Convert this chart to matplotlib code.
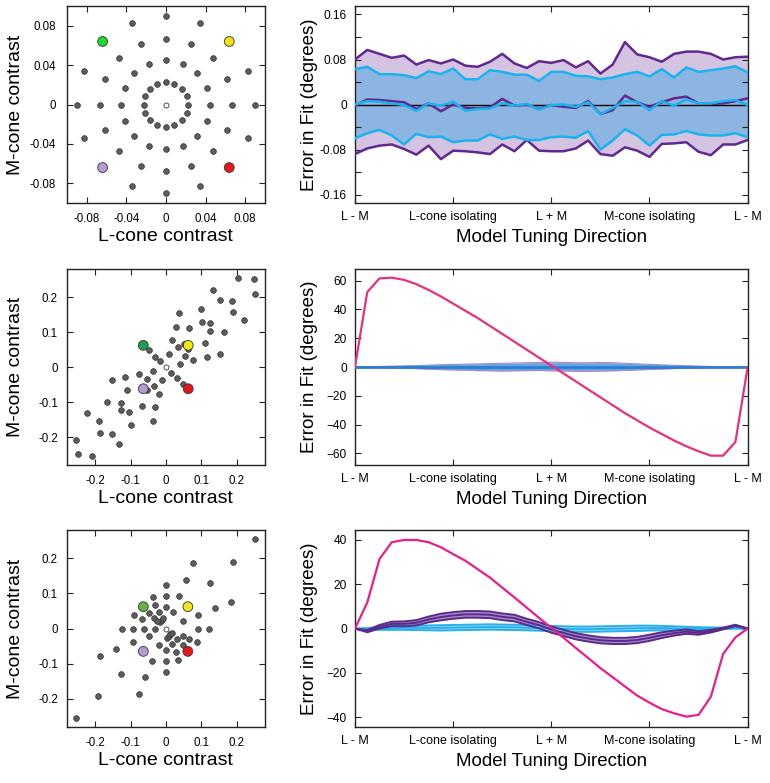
import numpy as np
import matplotlib
matplotlib.use('Agg')
import matplotlib.pyplot as plt

plt.rcParams['font.family'] = ['Liberation Sans', 'DejaVu Sans']

# =========================
# STIMULUS DATA (L, M cone contrast)
# =========================
# panel 1: polar grid, four rings of 16 directions
ring_x = [0.0225, 0.0208, 0.0159, 0.0086, 0.0, -0.0086, -0.0159, -0.0208,
          -0.0225, -0.0208, -0.0159, -0.0086, 0.0, 0.0086, 0.0159, 0.0208,
          0.045, 0.0416, 0.0318, 0.0172, 0.0, -0.0172, -0.0318, -0.0416,
          -0.045, -0.0416, -0.0318, -0.0172, 0.0, 0.0172, 0.0318, 0.0416,
          0.067, 0.0619, 0.0474, 0.0256, 0.0, -0.0256, -0.0474, -0.0619,
          -0.067, -0.0619, -0.0474, -0.0256, 0.0, 0.0256, 0.0474, 0.0619,
          0.09, 0.0831, 0.0344, 0.0, -0.0344, -0.0831,
          -0.09, -0.0831, -0.0344, 0.0, 0.0344, 0.0831]
ring_y = [0.0, 0.0086, 0.0159, 0.0208, 0.0225, 0.0208, 0.0159, 0.0086,
          0.0, -0.0086, -0.0159, -0.0208, -0.0225, -0.0208, -0.0159, -0.0086,
          0.0, 0.0172, 0.0318, 0.0416, 0.045, 0.0416, 0.0318, 0.0172,
          0.0, -0.0172, -0.0318, -0.0416, -0.045, -0.0416, -0.0318, -0.0172,
          0.0, 0.0256, 0.0474, 0.0619, 0.067, 0.0619, 0.0474, 0.0256,
          0.0, -0.0256, -0.0474, -0.0619, -0.067, -0.0619, -0.0474, -0.0256,
          0.0, 0.0344, 0.0831, 0.09, 0.0831, 0.0344,
          0.0, -0.0344, -0.0831, -0.09, -0.0831, -0.0344]

# panel 2: correlated stimuli
corr_x = [0.205, 0.248, 0.253, 0.132, 0.153, 0.186, 0.189, 0.220, 0.098, 0.102,
          0.125, 0.125, 0.165, 0.153, 0.115, 0.110, 0.077, 0.066, 0.038, 0.029,
          0.018, 0.009, 0.034, 0.052, 0.062, 0.055, 0.039,
          -0.048, -0.032, -0.016, 0.015, 0.031, 0.047,
          -0.038, -0.010, -0.033, -0.019, -0.054, -0.076, -0.115, -0.111, -0.152,
          -0.167, -0.128, -0.126, -0.104, -0.100, -0.067, -0.030, -0.038, -0.223,
          -0.190, -0.188, -0.154, -0.134, -0.254, -0.250, -0.208, -0.054]
corr_y = [0.255, 0.251, 0.209, 0.221, 0.191, 0.188, 0.156, 0.133, 0.166, 0.129,
          0.126, 0.104, 0.101, 0.038, 0.029, 0.068, 0.021, 0.111, 0.154, 0.114,
          0.077, 0.038, 0.056, 0.065, 0.051, 0.032, 0.010,
          0.048, 0.030, 0.016, -0.017, -0.031, -0.048,
          -0.010, -0.037, -0.055, -0.077, -0.033, -0.020, -0.029, -0.067, -0.038,
          -0.099, -0.104, -0.124, -0.128, -0.165, -0.110, -0.114, -0.153, -0.132,
          -0.155, -0.189, -0.191, -0.220, -0.208, -0.249, -0.255, -0.065]

# panel 3: mixed stimuli
mix_x = [0.253, 0.190, 0.076, 0.125, 0.057, 0.184, 0.138, 0.122, 0.090, 0.090,
         0.089, 0.066, 0.049, 0.048, 0.032, 0.018, 0.029, 0.035, 0.0, 0.0,
         0.0, -0.020, -0.039, -0.059, -0.077, -0.127, -0.141, -0.186, -0.191,
         -0.254, -0.124, -0.092, -0.062, -0.030, -0.092, -0.090, -0.069, -0.048,
         -0.048, -0.033, -0.030, -0.037, -0.019, -0.018, -0.011, -0.007, 0.0,
         0.0, 0.0, 0.019, 0.038, 0.047, 0.003, 0.008, 0.012, 0.018, -0.025]
mix_y = [0.254, 0.190, 0.186, 0.128, 0.138, 0.076, 0.057, 0.0, 0.038, 0.0,
         -0.038, -0.029, -0.020, -0.048, -0.031, -0.045, -0.068, -0.090, -0.062,
         -0.093, -0.124, -0.046, -0.093, -0.138, -0.186, -0.129, -0.057, -0.077,
         -0.191, -0.255, 0.0, 0.0, 0.0, 0.0, -0.039, 0.037, 0.028, 0.045,
         -0.020, 0.030, 0.066, 0.090, 0.047, 0.018, 0.024, 0.029, 0.062,
         0.092, 0.124, 0.048, 0.093, 0.020, -0.027, -0.022, -0.017, -0.012, 0.021]

# highlighted stimuli: L+M, L-M, -(L+M), M-L  (per panel)
hl_colors = [['#f3e214', '#1fdc2a', '#b89ad2', '#e8141c'],
             ['#f5e810', '#1f9d4f', '#b39bd0', '#e8141c'],
             ['#f1e41a', '#62b445', '#b89ad2', '#e8141c']]
hl_x = [[0.064, -0.064, -0.064, 0.064],
        [0.063, -0.064, -0.064, 0.063],
        [0.062, -0.064, -0.064, 0.062]]
hl_y = [[0.064, 0.064, -0.064, -0.064],
        [0.062, 0.062, -0.062, -0.062],
        [0.062, 0.062, -0.065, -0.065]]

# =========================
# MODEL ERROR DATA (33 tuning directions, 0-180 deg)
# =========================
tuning_dir = np.linspace(0, 180, 33)
dir_ticks = [0, 45, 90, 135, 180]
dir_labels = ['L - M', 'L-cone isolating', 'L + M', 'M-cone isolating', 'L - M']

# panel 1 (degrees)
p1_hi_purple = [0.080, 0.097, 0.090, 0.083, 0.087, 0.071, 0.079, 0.073, 0.080, 0.069, 0.067,
                0.076, 0.090, 0.073, 0.065, 0.077, 0.074, 0.079, 0.066, 0.077, 0.055, 0.071,
                0.111, 0.089, 0.084, 0.076, 0.090, 0.094, 0.094, 0.090, 0.080, 0.084, 0.085]
p1_hi_cyan = [0.063, 0.067, 0.054, 0.054, 0.052, 0.047, 0.059, 0.054, 0.064, 0.045, 0.045,
              0.061, 0.058, 0.053, 0.053, 0.042, 0.058, 0.058, 0.051, 0.050, 0.045, 0.048,
              0.054, 0.058, 0.050, 0.063, 0.048, 0.066, 0.058, 0.061, 0.064, 0.068, 0.057]
p1_mid_purple = [-0.002, 0.009, 0.008, 0.006, 0.004, -0.008, 0.002, -0.012, 0.0, -0.006, -0.007,
                 -0.005, 0.010, -0.002, 0.0, -0.008, -0.001, -0.004, -0.006, 0.006, -0.017, -0.010,
                 0.016, 0.004, -0.004, 0.004, 0.011, 0.014, 0.002, 0.001, 0.002, 0.006, 0.011]
p1_mid_cyan = [0.0, 0.006, 0.005, 0.002, -0.001, -0.011, 0.002, -0.002, 0.005, -0.011, -0.008,
               -0.007, 0.002, -0.002, 0.001, -0.009, -0.001, 0.0, -0.004, 0.004, -0.017, -0.006,
               0.006, 0.005, -0.010, 0.006, -0.002, 0.009, 0.002, 0.002, 0.006, 0.008, -0.001]
p1_lo_cyan = [-0.060, -0.051, -0.045, -0.055, -0.071, -0.052, -0.058, -0.057, -0.067, -0.064, -0.064,
              -0.053, -0.061, -0.057, -0.063, -0.063, -0.058, -0.057, -0.059, -0.047, -0.080, -0.064,
              -0.044, -0.055, -0.073, -0.054, -0.053, -0.047, -0.053, -0.055, -0.055, -0.051, -0.058]
p1_lo_purple = [-0.088, -0.078, -0.073, -0.071, -0.079, -0.089, -0.073, -0.097, -0.082, -0.083, -0.085,
                -0.088, -0.071, -0.083, -0.063, -0.082, -0.083, -0.083, -0.078, -0.064, -0.088, -0.091,
                -0.076, -0.082, -0.093, -0.070, -0.069, -0.067, -0.084, -0.090, -0.071, -0.071, -0.063]

# panel 2
p2_pink = [0, 52, 61.5, 62, 60.5, 57.5, 53.5, 49, 44, 39, 34, 28.5, 23, 17.5, 12, 6.5, 1,
           -4.5, -10, -15.5, -21, -26.5, -32, -37, -42, -46.5, -51, -55, -58.5, -61.5, -61.5, -52, 0]
p2_hi_purple = [0, 0.2, 0.4, 0.6, 0.8, 1.0, 1.3, 1.6, 1.8, 2.0, 2.2, 2.4, 2.6, 2.8, 3.0, 3.2, 3.4,
                3.2, 3.0, 3.0, 3.2, 3.0, 2.6, 2.2, 1.8, 1.5, 1.2, 0.9, 0.6, 0.4, 0.2, 0.1, 0]
p2_lo_purple = [0, -0.2, -0.3, -0.5, -0.8, -1.1, -1.5, -1.8, -2.0, -2.2, -2.5, -2.6, -2.8, -2.6, -2.5,
                -2.4, -2.6, -2.8, -3.0, -3.0, -2.8, -2.6, -2.4, -2.0, -1.7, -1.4, -1.1, -0.8, -0.5,
                -0.3, -0.2, -0.1, 0]
p2_hi_cyan = [0, 0.1, 0.2, 0.3, 0.5, 0.6, 0.8, 1.0, 1.1, 1.2, 1.3, 1.5, 1.6, 1.7, 1.8, 1.9, 2.0,
              1.9, 1.8, 1.8, 1.9, 1.8, 1.6, 1.3, 1.1, 0.9, 0.7, 0.5, 0.4, 0.2, 0.1, 0.0, 0]
p2_lo_cyan = [0, -0.1, -0.2, -0.3, -0.5, -0.7, -0.9, -1.1, -1.2, -1.3, -1.5, -1.6, -1.7, -1.6, -1.5,
              -1.4, -1.6, -1.7, -1.8, -1.8, -1.7, -1.6, -1.4, -1.2, -1.0, -0.8, -0.6, -0.5, -0.3,
              -0.2, -0.1, 0.0, 0]
p2_mid = [0] * 33

# panel 3
p3_pink = [0, 11.7, 31.4, 39, 40, 40, 39, 36.7, 33.6, 30.6, 26.8, 23, 18.5, 14, 9.4, 4.8, 0.3,
           -4.2, -8.8, -13.3, -17.9, -22, -26.2, -30.3, -33.5, -36.4, -38.3, -39.8, -39, -30.8,
           -11.5, -4, 0]
p3_hi_purple = [0, -0.7, 1.6, 3.1, 3.2, 3.8, 5.4, 6.7, 7.4, 7.9, 7.9, 7.7, 6.8, 6.2, 4.4, 2.9, 0.9,
                -0.6, -2.1, -3.1, -3.9, -4.2, -4.2, -3.8, -2.8, -1.7, -1.0, -0.4, -1.2, -0.6, 0.4, 1.7, 0]
p3_mid_purple = [0, -1.2, 0.8, 2.1, 2.1, 2.6, 4.1, 5.2, 5.9, 6.4, 6.4, 6.2, 5.3, 4.7, 3.0, 1.5, -0.5,
                 -2.0, -3.5, -4.5, -5.3, -5.6, -5.6, -5.2, -4.2, -3.0, -2.1, -1.4, -2.0, -1.2, 0, 1.4, 0]
p3_lo_purple = [0, -1.7, 0.0, 1.1, 1.0, 1.4, 2.8, 3.7, 4.4, 4.9, 4.9, 4.7, 3.8, 3.2, 1.6, 0.1, -1.9,
                -3.4, -4.9, -5.9, -6.7, -7.0, -7.0, -6.6, -5.6, -4.3, -3.2, -2.4, -2.8, -1.8, -0.4, 1.1, 0]
p3_hi_cyan = [0, 0.2, 0.6, 1.0, 1.2, 1.3, 1.4, 1.5, 1.6, 1.7, 1.8, 1.9, 1.8, 1.7, 1.6, 1.4, 1.2,
              1.0, 0.9, 0.9, 1.0, 1.1, 1.2, 1.3, 1.3, 1.2, 1.0, 0.8, 0.6, 0.5, 0.4, 0.2, 0]
p3_mid_cyan = [0, -0.3, 0, 0.2, 0.3, 0.3, 0.3, 0.3, 0.4, 0.5, 0.6, 0.7, 0.6, 0.5, 0.4, 0.2, 0,
               -0.2, -0.3, -0.3, -0.2, -0.1, 0, 0.1, 0.2, 0.2, 0.1, 0, -0.1, 0, 0.1, 0.1, 0]
p3_lo_cyan = [0, -0.8, -0.6, -0.6, -0.6, -0.7, -0.8, -0.9, -0.8, -0.7, -0.6, -0.5, -0.6, -0.7, -0.8,
              -1.0, -1.2, -1.4, -1.5, -1.5, -1.4, -1.3, -1.2, -1.1, -0.9, -0.8, -0.8, -0.8, -0.8,
              -0.5, -0.2, 0, 0]

# =========================
# STYLE
# =========================
PURPLE = '#62288f'
PURPLE_FILL = '#d5c4e1'
CYAN = '#1ab3ee'
BLUE_FILL = '#8cb5e2'
GRAY = '#5c5c5c'

fig = plt.figure(figsize=(7.70, 7.83), dpi=100)

left_boxes = [[0.087, 0.7407, 0.257, 0.2516],
              [0.087, 0.4061, 0.257, 0.2503],
              [0.087, 0.0715, 0.257, 0.2516]]
right_boxes = [[0.461, 0.7407, 0.510, 0.2516],
               [0.461, 0.4061, 0.510, 0.2503],
               [0.461, 0.0715, 0.510, 0.2516]]


def style_axes(ax):
    ax.tick_params(direction='in', top=True, right=True, length=4, width=0.8,
                   colors='#222222', labelcolor='black')
    for sp in ax.spines.values():
        sp.set_linewidth(1.0)
        sp.set_color('#222222')


# =========================
# SCATTER PANELS
# =========================
scatter_sets = [(ring_x, ring_y), (corr_x, corr_y), (mix_x, mix_y)]
for k, (sx, sy) in enumerate(scatter_sets):
    ax = fig.add_axes(left_boxes[k])
    ax.scatter(sx, sy, s=17, c=GRAY, edgecolors='#333333', linewidths=0.5, zorder=2)
    ax.scatter(hl_x[k], hl_y[k], s=50, c=hl_colors[k], edgecolors='#333333',
               linewidths=0.6, zorder=3)
    ax.scatter([0], [0], s=13, c='white', edgecolors='#333333', linewidths=0.6, zorder=3)
    if k == 0:
        ax.set_xlim(-0.1, 0.1)
        ax.set_ylim(-0.1, 0.1)
        ticks = [-0.08, -0.04, 0, 0.04, 0.08]
        labels = ['-0.08', '-0.04', '0', '0.04', '0.08']
        ypad = 8
    else:
        ax.set_xlim(-0.28, 0.28)
        ax.set_ylim(-0.28, 0.28)
        ticks = [-0.2, -0.1, 0, 0.1, 0.2]
        labels = ['-0.2', '-0.1', '0', '0.1', '0.2']
        ypad = 6.5
    ax.set_xticks(ticks)
    ax.set_xticklabels(labels)
    ax.set_yticks(ticks)
    ax.set_yticklabels(labels)
    style_axes(ax)
    ax.tick_params(axis='x', labelsize=8.3, pad=7)
    ax.tick_params(axis='y', labelsize=8.3, pad=ypad)
    ax.set_xlabel('L-cone contrast', fontsize=14)
    ax.set_ylabel('M-cone contrast', fontsize=14)
    ax.xaxis.set_label_coords(0.5, -0.125)
    ax.yaxis.set_label_coords(-0.215, 0.5)

# =========================
# ERROR PANELS
# =========================
# panel 1
ax = fig.add_axes(right_boxes[0])
ax.fill_between(tuning_dir, p1_lo_purple, p1_hi_purple, color=PURPLE_FILL, lw=0)
ax.fill_between(tuning_dir, p1_lo_cyan, p1_hi_cyan, color=BLUE_FILL, lw=0)
ax.axhline(0, color='black', lw=1.0, zorder=2)
for vals in [p1_hi_purple, p1_mid_purple, p1_lo_purple]:
    ax.plot(tuning_dir, vals, color=PURPLE, lw=1.8, zorder=3)
for vals in [p1_hi_cyan, p1_mid_cyan, p1_lo_cyan]:
    ax.plot(tuning_dir, vals, color=CYAN, lw=1.8, zorder=4)
ax.set_ylim(-0.175, 0.175)
yt = [-0.16, -0.12, -0.08, -0.04, 0, 0.04, 0.08, 0.12, 0.16]
ax.set_yticks(yt)
ax.set_yticklabels(['-0.16', '', '-0.08', '', '0', '', '0.08', '', '0.16'])

# panel 2
ax2 = fig.add_axes(right_boxes[1])
ax2.fill_between(tuning_dir, p2_lo_purple, p2_hi_purple, color='#b79fd2', lw=0)
ax2.fill_between(tuning_dir, p2_lo_cyan, p2_hi_cyan, color='#6fa6dc', lw=0)
ax2.plot(tuning_dir, p2_hi_purple, color='#a788c8', lw=0.8)
ax2.plot(tuning_dir, p2_lo_purple, color='#a788c8', lw=0.8)
ax2.plot(tuning_dir, p2_hi_cyan, color='#53a7e6', lw=0.8)
ax2.plot(tuning_dir, p2_lo_cyan, color='#53a7e6', lw=0.8)
ax2.plot(tuning_dir, p2_mid, color='#2a7fd2', lw=2.0, zorder=4)
ax2.plot(tuning_dir, p2_pink, color='#e8307d', lw=1.6, zorder=5)
ax2.set_ylim(-68, 68)
ax2.set_yticks([-60, -40, -20, 0, 20, 40, 60])

# panel 3
ax3 = fig.add_axes(right_boxes[2])
ax3.fill_between(tuning_dir, p3_lo_purple, p3_hi_purple, color='#a78cc9', lw=0)
ax3.fill_between(tuning_dir, p3_lo_cyan, p3_hi_cyan, color='#a9d3f2', lw=0)
for vals in [p3_hi_cyan, p3_mid_cyan, p3_lo_cyan]:
    ax3.plot(tuning_dir, vals, color='#27b2ec', lw=1.4, zorder=3)
for vals in [p3_hi_purple, p3_mid_purple, p3_lo_purple]:
    ax3.plot(tuning_dir, vals, color='#5b2a8a', lw=1.4, zorder=4)
ax3.plot(tuning_dir, p3_pink, color='#ea1e8a', lw=1.6, zorder=5)
ax3.set_ylim(-44.5, 44.5)
ax3.set_yticks([-40, -20, 0, 20, 40])

for a in [ax, ax2, ax3]:
    a.set_xlim(0, 180)
    a.set_xticks(dir_ticks)
    a.set_xticklabels(dir_labels)
    style_axes(a)
    a.tick_params(axis='x', labelsize=9, pad=6)
    a.tick_params(axis='y', labelsize=8.6, pad=6)
    a.set_xlabel('Model Tuning Direction', fontsize=13.5)
    a.set_ylabel('Error in Fit (degrees)', fontsize=13.5)
    a.xaxis.set_label_coords(0.5, -0.13)
    a.yaxis.set_label_coords(-0.094, 0.5)

fig.savefig('out.png', dpi=100)
